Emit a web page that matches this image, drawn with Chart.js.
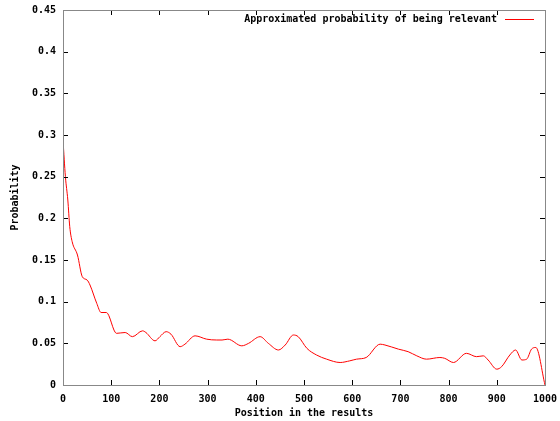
<!DOCTYPE html>
<html>
<head>
<meta charset="utf-8">
<script src="https://cdn.jsdelivr.net/npm/chart.js@4/dist/chart.umd.min.js"></script>
<style>
  html, body { margin: 0; padding: 0; background: #fff; }
  #wrap { width: 560px; height: 421px; }
</style>
</head>
<body>
<div id="wrap"><canvas id="chart"></canvas></div>
<script>
const positions = [0, 5, 10, 14, 19, 30, 40, 50, 56, 70, 79, 90, 111, 129, 144, 165, 172, 191, 201, 214, 224,
  243, 253, 274, 298, 319, 330, 342, 371, 385, 409, 426, 447, 461, 478, 488, 506, 526, 547, 575, 595, 609,
  629, 658, 668, 696, 716, 734, 754, 782, 792, 810, 837, 858, 872, 882, 900, 910, 927, 939, 952, 962, 972,
  981, 1000];
const probability = [0.294, 0.25, 0.222, 0.19, 0.172, 0.156, 0.13, 0.126, 0.12, 0.098, 0.087, 0.087, 0.062,
  0.063, 0.058, 0.065, 0.063, 0.053, 0.058, 0.064, 0.061, 0.046, 0.049, 0.059, 0.055, 0.054, 0.054, 0.055,
  0.047, 0.050, 0.058, 0.050, 0.042, 0.048, 0.060, 0.058, 0.044, 0.036, 0.031, 0.027, 0.029, 0.031, 0.033,
  0.049, 0.048, 0.043, 0.040, 0.035, 0.031, 0.033, 0.032, 0.027, 0.038, 0.034, 0.035, 0.030, 0.019, 0.022,
  0.036, 0.042, 0.030, 0.031, 0.043, 0.045, 0];
const seriesLabel = 'Approximated probability of being relevant';
const xTitle = 'Position in the results';
const yTitle = 'Probability';

const font = { family: '"DejaVu Sans Mono", monospace', size: 10, weight: 'bold' };

// gnuplot style frame: gray box, inward ticks on all four sides, legend inside top right
const frame = {
  id: 'frame',
  afterDraw(chart) {
    const { ctx, chartArea: a, scales: { x, y } } = chart;
    const len = 5;
    ctx.save();
    ctx.strokeStyle = '#000';
    ctx.lineWidth = 1;
    ctx.beginPath();
    x.ticks.forEach(t => {
      const px = Math.round(x.getPixelForValue(t.value)) + 0.5;
      ctx.moveTo(px, a.bottom); ctx.lineTo(px, a.bottom - len);
      ctx.moveTo(px, a.top); ctx.lineTo(px, a.top + len);
    });
    y.ticks.forEach(t => {
      const py = Math.round(y.getPixelForValue(t.value)) + 0.5;
      ctx.moveTo(a.left, py); ctx.lineTo(a.left + len, py);
      ctx.moveTo(a.right, py); ctx.lineTo(a.right - len, py);
    });
    ctx.stroke();
    ctx.strokeStyle = '#888';
    ctx.strokeRect(Math.round(a.left) + 0.5, Math.round(a.top) + 0.5,
      Math.round(a.right - a.left), Math.round(a.bottom - a.top));

    const ds = chart.data.datasets[0];
    const ly = a.top + 9;
    ctx.font = `${font.weight} ${font.size}px ${font.family}`;
    ctx.fillStyle = '#000';
    ctx.textAlign = 'right';
    ctx.textBaseline = 'middle';
    ctx.fillText(ds.label, a.right - 48, ly);
    ctx.strokeStyle = ds.borderColor;
    ctx.beginPath();
    ctx.moveTo(a.right - 40, ly + 0.5);
    ctx.lineTo(a.right - 11, ly + 0.5);
    ctx.stroke();
    ctx.restore();
  }
};

new Chart(document.getElementById('chart'), {
  type: 'line',
  data: {
    datasets: [{
      label: seriesLabel,
      data: positions.map((p, i) => ({ x: p, y: probability[i] })),
      borderColor: '#ff0000',
      borderWidth: 1,
      pointRadius: 0,
      cubicInterpolationMode: 'monotone',
      fill: false
    }]
  },
  options: {
    responsive: true, maintainAspectRatio: false, animation: false,
    layout: { padding: { top: 10, right: 15, bottom: 0, left: 0 } },
    plugins: { legend: { display: false }, tooltip: { enabled: false } },
    scales: {
      x: {
        type: 'linear', min: 0, max: 1000,
        afterFit: s => { s.height = 36; s.paddingLeft = 0; s.paddingRight = 0; },
        grid: { display: false, drawTicks: false },
        border: { display: false },
        ticks: { stepSize: 100, color: '#000', font, padding: 8, maxRotation: 0, callback: v => String(v) },
        title: { display: true, text: xTitle, color: '#000', font, padding: { top: 0, bottom: 2 } }
      },
      y: {
        min: 0, max: 0.45,
        afterFit: s => { s.width = 63; s.paddingTop = 0; s.paddingBottom = 0; },
        grid: { display: false, drawTicks: false },
        border: { display: false },
        ticks: { stepSize: 0.05, color: '#000', font, padding: 7, callback: v => String(+v.toFixed(2)) },
        title: { display: true, text: yTitle, color: '#000', font, padding: { top: 9, bottom: 0 } }
      }
    }
  },
  plugins: [frame]
});
</script>
</body>
</html>
